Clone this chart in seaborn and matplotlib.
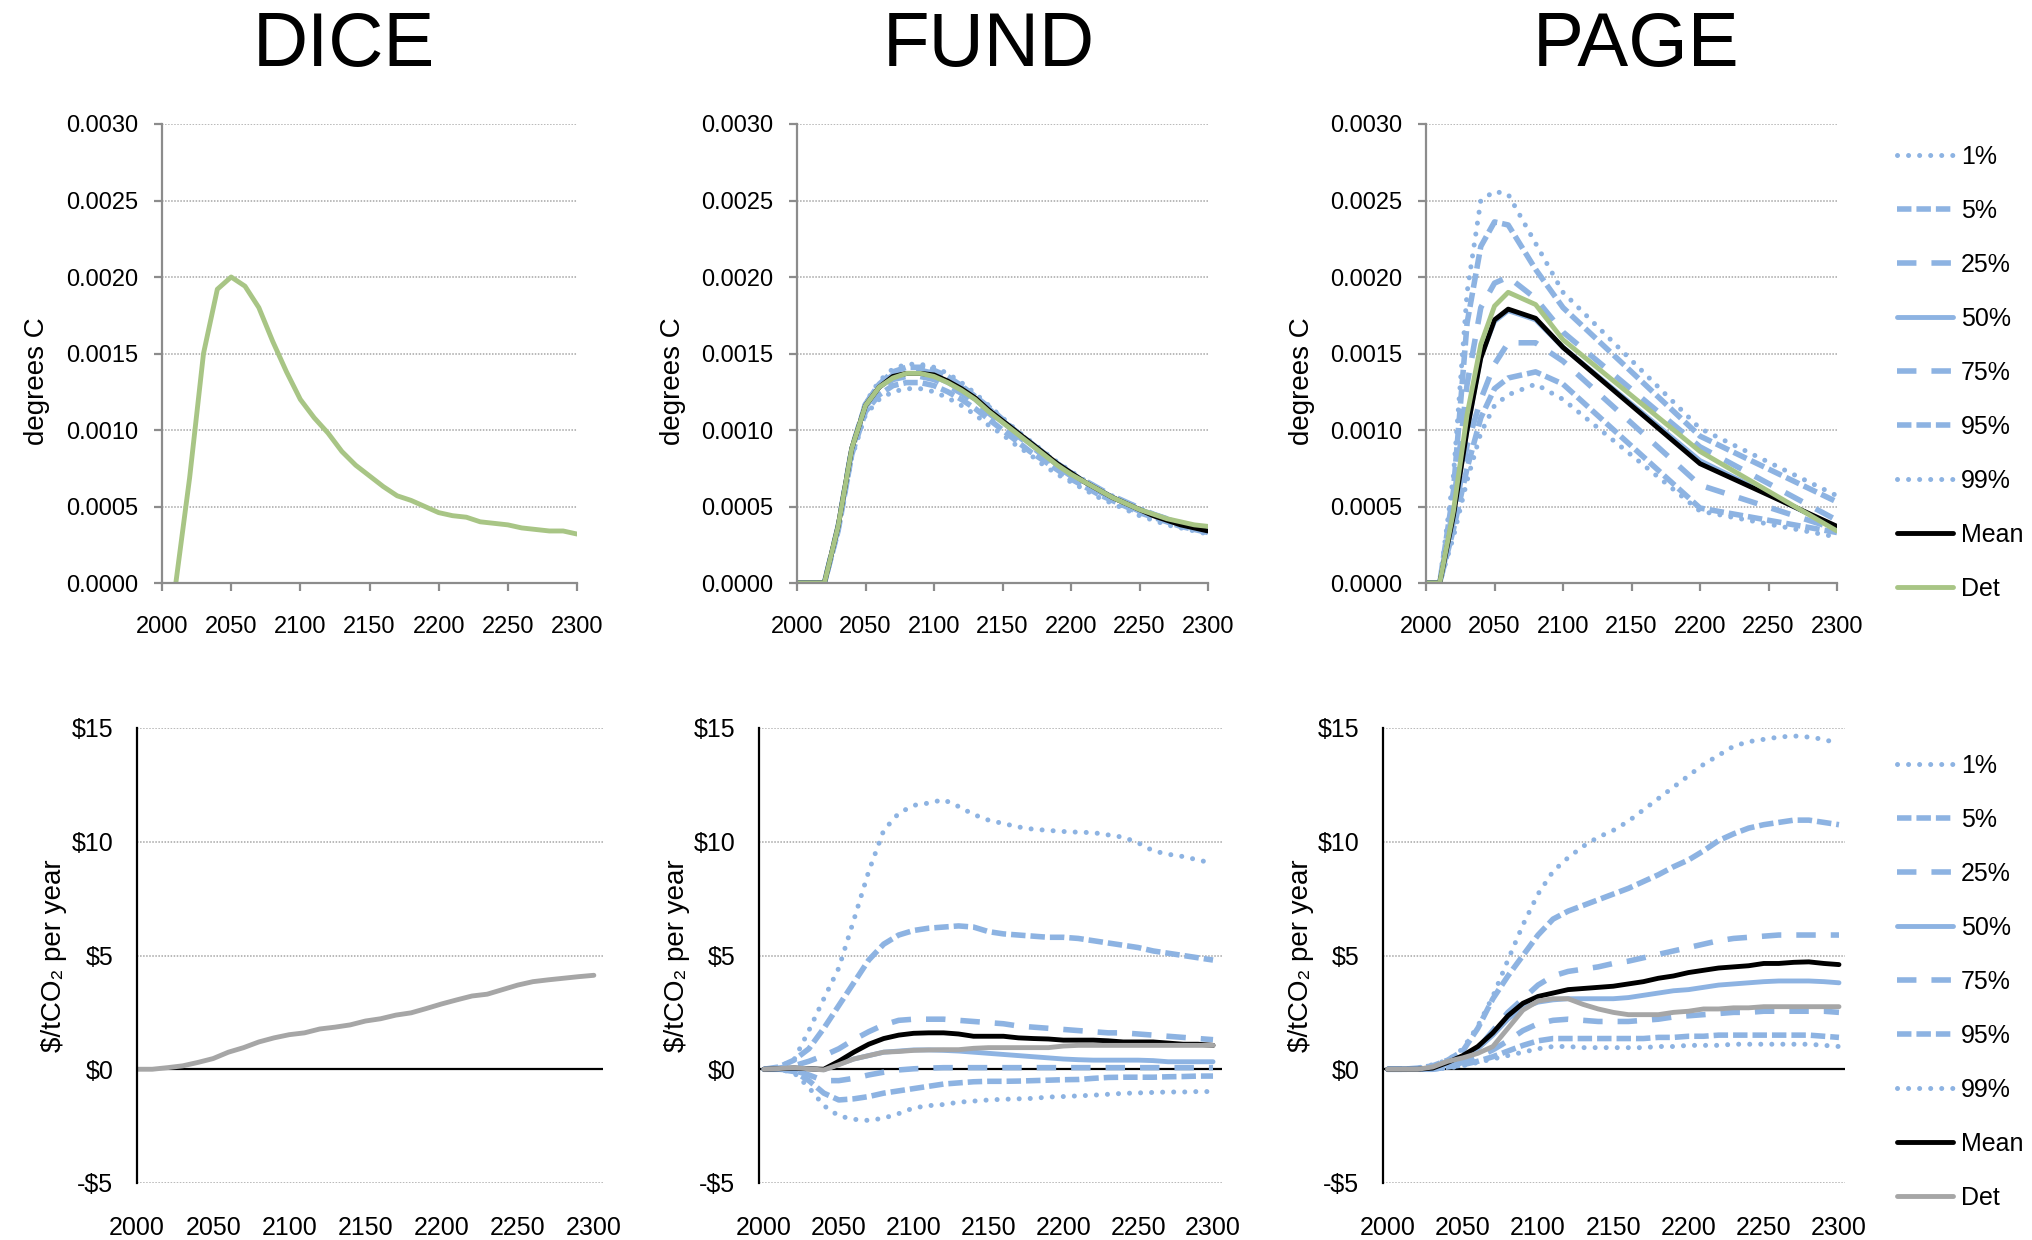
import numpy as np
import pandas as pd
import matplotlib.pyplot as plt
import seaborn as sns
from matplotlib.lines import Line2D
from matplotlib.ticker import FuncFormatter

### Data

labels = ['1%', '5%', '25%', '50%', '75%', '95%', '99%', 'Mean', 'Det']
models = ['DICE', 'FUND', 'PAGE']

years = list(range(2000, 2301, 10))
dice_temp_years = list(range(2010, 2301, 10))
page_temp_years = [2000, 2010, 2020, 2030, 2040, 2050, 2060, 2080, 2100, 2200, 2300]

# DICE (deterministic only)
dice_temp_det = [0, 0.00069, 0.0015, 0.00192, 0.0020, 0.00194, 0.0018, 0.00158, 0.00138, 0.0012,
                 0.00108, 0.00098, 0.00086, 0.00077, 0.0007, 0.00063, 0.00057, 0.00054, 0.0005, 0.00046,
                 0.00044, 0.00043, 0.0004, 0.00039, 0.00038, 0.00036, 0.00035, 0.00034, 0.00034, 0.00032]
dice_scc_det = [0, 0, 0.07, 0.15, 0.3, 0.47, 0.75, 0.95, 1.2, 1.38, 1.52, 1.6, 1.77, 1.85, 1.95, 2.12,
                2.22, 2.38, 2.48, 2.67, 2.87, 3.05, 3.22, 3.3, 3.5, 3.7, 3.85, 3.93, 4.0, 4.07, 4.13]

# FUND temperature
fund_temp = {
    '1%':   [0, 0, 0, 0.00033, 0.00082, 0.0011, 0.0012, 0.00125, 0.00127, 0.00127, 0.00125, 0.00121, 0.00116,
             0.0011, 0.00103, 0.00097, 0.0009, 0.00084, 0.00077, 0.00071, 0.00066, 0.00061, 0.00056, 0.00052,
             0.00048, 0.00044, 0.00041, 0.00038, 0.00036, 0.00034, 0.00032],
    '5%':   [0, 0, 0, 0.00034, 0.00084, 0.00112, 0.00123, 0.00129, 0.00131, 0.00131, 0.00129, 0.00125, 0.0012,
             0.00114, 0.00107, 0.001, 0.00093, 0.00086, 0.0008, 0.00074, 0.00068, 0.00063, 0.00058, 0.00054,
             0.0005, 0.00046, 0.00043, 0.0004, 0.00037, 0.00035, 0.00033],
    '25%':  [0, 0, 0, 0.00036, 0.00087, 0.00115, 0.00127, 0.00133, 0.00135, 0.00135, 0.00133, 0.00129, 0.00124,
             0.00118, 0.00111, 0.00104, 0.00097, 0.0009, 0.00083, 0.00076, 0.0007, 0.00065, 0.0006, 0.00055,
             0.00051, 0.00047, 0.00044, 0.00041, 0.00038, 0.00036, 0.00034],
    '50%':  [0, 0, 0, 0.00037, 0.00088, 0.00116, 0.00128, 0.00134, 0.00137, 0.00137, 0.00135, 0.00131, 0.00126,
             0.0012, 0.00112, 0.00105, 0.00098, 0.00091, 0.00084, 0.00077, 0.00071, 0.00066, 0.00061, 0.00056,
             0.00052, 0.00048, 0.00045, 0.00042, 0.00039, 0.00037, 0.00035],
    '75%':  [0, 0, 0, 0.00037, 0.00088, 0.00117, 0.00129, 0.00136, 0.00139, 0.00139, 0.00137, 0.00133, 0.00128,
             0.00121, 0.00114, 0.00106, 0.00099, 0.00092, 0.00085, 0.00078, 0.00072, 0.00067, 0.00062, 0.00057,
             0.00053, 0.00049, 0.00045, 0.00042, 0.00039, 0.00037, 0.00035],
    '95%':  [0, 0, 0, 0.00036, 0.00087, 0.00117, 0.0013, 0.00138, 0.00141, 0.00141, 0.00139, 0.00135, 0.00129,
             0.00122, 0.00115, 0.00107, 0.00099, 0.00092, 0.00085, 0.00078, 0.00072, 0.00066, 0.00061, 0.00056,
             0.00052, 0.00048, 0.00044, 0.00041, 0.00038, 0.00036, 0.00034],
    '99%':  [0, 0, 0, 0.00036, 0.00088, 0.00118, 0.00132, 0.0014, 0.00143, 0.00143, 0.00141, 0.00137, 0.00131,
             0.00124, 0.00116, 0.00108, 0.001, 0.00093, 0.00086, 0.00079, 0.00073, 0.00067, 0.00062, 0.00057,
             0.00053, 0.00049, 0.00045, 0.00042, 0.00039, 0.00037, 0.00035],
    'Mean': [0, 0, 0, 0.00037, 0.00088, 0.00116, 0.00128, 0.00135, 0.00137, 0.00137, 0.00136, 0.00132, 0.00127,
             0.00121, 0.00113, 0.00106, 0.00099, 0.00092, 0.00085, 0.00078, 0.00072, 0.00066, 0.00061, 0.00056,
             0.00052, 0.00048, 0.00044, 0.00041, 0.00038, 0.00036, 0.00034],
    'Det':  [0, 0, 0, 0.00037, 0.00088, 0.00116, 0.00128, 0.00134, 0.00137, 0.00137, 0.00135, 0.00131, 0.00126,
             0.0012, 0.00112, 0.00105, 0.00098, 0.00091, 0.00084, 0.00077, 0.00071, 0.00066, 0.00061, 0.00056,
             0.00052, 0.00048, 0.00045, 0.00042, 0.00040, 0.00038, 0.00037],
}

# FUND SCC growth
fund_scc = {
    '1%':   [0, 0, -0.15, -0.8, -1.6, -2.05, -2.2, -2.25, -2.15, -1.95, -1.7, -1.6, -1.55, -1.45, -1.4, -1.35,
             -1.32, -1.3, -1.28, -1.22, -1.2, -1.17, -1.14, -1.1, -1.06, -1.04, -1.02, -1.0, -1.0, -0.98, -0.98],
    '5%':   [0, 0, -0.1, -0.5, -1.05, -1.35, -1.3, -1.2, -1.05, -0.95, -0.85, -0.75, -0.65, -0.6, -0.55, -0.53,
             -0.53, -0.52, -0.5, -0.48, -0.46, -0.45, -0.4, -0.36, -0.35, -0.35, -0.35, -0.33, -0.32, -0.3, -0.3],
    '25%':  [0, 0, -0.05, -0.25, -0.5, -0.5, -0.4, -0.25, -0.13, -0.03, 0.02, 0.05, 0.07, 0.07, 0.07, 0.07,
             0.07, 0.07, 0.07, 0.07, 0.07, 0.07, 0.07, 0.07, 0.07, 0.07, 0.07, 0.07, 0.07, 0.07, 0.07],
    '50%':  [0, 0.03, 0.06, 0.02, -0.02, 0.22, 0.45, 0.6, 0.75, 0.8, 0.85, 0.85, 0.83, 0.8, 0.75, 0.7,
             0.65, 0.6, 0.55, 0.5, 0.45, 0.42, 0.4, 0.4, 0.4, 0.4, 0.38, 0.33, 0.33, 0.33, 0.33],
    '75%':  [0, 0.05, 0.15, 0.35, 0.6, 0.9, 1.3, 1.65, 1.95, 2.15, 2.2, 2.2, 2.2, 2.15, 2.1, 2.05,
             2.0, 1.9, 1.85, 1.8, 1.75, 1.7, 1.65, 1.6, 1.6, 1.55, 1.5, 1.45, 1.4, 1.35, 1.3],
    '95%':  [0, 0.1, 0.4, 0.9, 1.8, 2.8, 3.8, 4.8, 5.5, 5.9, 6.1, 6.2, 6.25, 6.3, 6.25, 6.05,
             5.95, 5.9, 5.85, 5.8, 5.8, 5.75, 5.65, 5.55, 5.45, 5.35, 5.2, 5.1, 5.0, 4.9, 4.8],
    '99%':  [0, 0.1, 0.4, 1.7, 3.1, 4.45, 6.55, 8.7, 10.5, 11.25, 11.6, 11.7, 11.85, 11.55, 11.2, 10.95,
             10.8, 10.65, 10.55, 10.5, 10.45, 10.42, 10.4, 10.3, 10.2, 9.95, 9.6, 9.45, 9.35, 9.2, 9.05],
    'Mean': [0, 0.02, 0.05, 0.02, 0.0, 0.35, 0.75, 1.1, 1.35, 1.5, 1.58, 1.6, 1.6, 1.55, 1.45, 1.45,
             1.45, 1.38, 1.35, 1.33, 1.28, 1.28, 1.28, 1.25, 1.2, 1.2, 1.2, 1.15, 1.1, 1.1, 1.05],
    'Det':  [0, 0.03, 0.07, 0.02, -0.03, 0.2, 0.45, 0.6, 0.75, 0.78, 0.83, 0.85, 0.86, 0.86, 0.92, 0.95,
             0.95, 0.95, 0.95, 0.95, 1.02, 1.05, 1.05, 1.05, 1.05, 1.05, 1.05, 1.05, 1.05, 1.05, 1.05],
}

# PAGE temperature
page_temp = {
    '1%':   [0, 0, 0.0003, 0.00067, 0.00098, 0.00116, 0.00123, 0.0013, 0.0012, 0.00047, 0.0003],
    '5%':   [0, 0, 0.00035, 0.00075, 0.00108, 0.00127, 0.00134, 0.00138, 0.0013, 0.00049, 0.00033],
    '25%':  [0, 0, 0.0004, 0.0009, 0.0012, 0.00143, 0.00157, 0.00157, 0.00145, 0.00064, 0.00035],
    '50%':  [0, 0, 0.00045, 0.001, 0.00148, 0.00171, 0.00178, 0.00172, 0.00154, 0.0008, 0.00036],
    '75%':  [0, 0, 0.0005, 0.0013, 0.0018, 0.00196, 0.0020, 0.00186, 0.00164, 0.00089, 0.00041],
    '95%':  [0, 0, 0.0006, 0.0017, 0.0022, 0.00236, 0.00234, 0.00205, 0.0018, 0.00096, 0.00053],
    '99%':  [0, 0, 0.0007, 0.0019, 0.0025, 0.00256, 0.00254, 0.00222, 0.0019, 0.00101, 0.00057],
    'Mean': [0, 0, 0.00044, 0.001, 0.00147, 0.00172, 0.00179, 0.00173, 0.00154, 0.00078, 0.00037],
    'Det':  [0, 0, 0.00047, 0.0011, 0.00156, 0.00181, 0.0019, 0.00182, 0.00159, 0.00086, 0.00034],
}

# PAGE SCC growth
page_scc = {
    '1%':   [0, 0, 0, 0, 0.05, 0.15, 0.3, 0.45, 0.6, 0.75, 0.9, 1.0, 1.0, 0.95, 0.95, 0.95,
             0.95, 0.95, 1.0, 1.0, 1.05, 1.05, 1.05, 1.1, 1.1, 1.1, 1.1, 1.1, 1.1, 1.05, 1.0],
    '5%':   [0, 0, 0, 0, 0.1, 0.2, 0.35, 0.55, 0.8, 1.05, 1.25, 1.35, 1.35, 1.35, 1.35, 1.35,
             1.35, 1.35, 1.4, 1.4, 1.45, 1.45, 1.5, 1.5, 1.5, 1.5, 1.5, 1.5, 1.5, 1.45, 1.4],
    '25%':  [0, 0, 0, 0, 0.1, 0.3, 0.55, 0.85, 1.25, 1.7, 2.0, 2.15, 2.2, 2.15, 2.1, 2.1,
             2.1, 2.15, 2.2, 2.3, 2.35, 2.4, 2.45, 2.5, 2.5, 2.55, 2.55, 2.55, 2.55, 2.55, 2.5],
    '50%':  [0, 0, 0, 0.03, 0.25, 0.5, 0.9, 1.5, 2.2, 2.7, 2.95, 3.05, 3.1, 3.1, 3.1, 3.1,
             3.15, 3.25, 3.35, 3.45, 3.5, 3.6, 3.7, 3.75, 3.8, 3.85, 3.88, 3.88, 3.88, 3.85, 3.8],
    '75%':  [0, 0, 0, 0.05, 0.2, 0.45, 0.9, 1.7, 2.5, 3.1, 3.7, 4.1, 4.3, 4.4, 4.5, 4.65,
             4.75, 4.9, 5.05, 5.2, 5.35, 5.5, 5.65, 5.75, 5.8, 5.85, 5.9, 5.9, 5.9, 5.9, 5.9],
    '95%':  [0, 0, 0.05, 0.15, 0.4, 0.8, 1.8, 3.1, 4.1, 5.0, 5.9, 6.6, 6.95, 7.2, 7.45, 7.7,
             7.95, 8.25, 8.55, 8.9, 9.2, 9.6, 10.05, 10.35, 10.6, 10.75, 10.85, 10.95, 10.95, 10.85, 10.75],
    '99%':  [0, 0, 0.05, 0.2, 0.4, 0.9, 1.9, 3.2, 4.8, 6.35, 7.7, 8.7, 9.3, 9.8, 10.2, 10.5,
             10.9, 11.4, 11.9, 12.4, 12.9, 13.4, 13.8, 14.2, 14.4, 14.5, 14.6, 14.65, 14.6, 14.5, 14.3],
    'Mean': [0, 0, 0, 0.05, 0.3, 0.6, 1.0, 1.6, 2.35, 2.9, 3.2, 3.35, 3.5, 3.55, 3.6, 3.65,
             3.75, 3.85, 4.0, 4.1, 4.25, 4.35, 4.45, 4.5, 4.55, 4.65, 4.65, 4.7, 4.72, 4.65, 4.6],
    'Det':  [0, 0, 0, 0.1, 0.35, 0.5, 0.7, 1.0, 1.8, 2.6, 3.0, 3.1, 3.1, 2.85, 2.65, 2.5,
             2.4, 2.4, 2.4, 2.5, 2.55, 2.65, 2.65, 2.7, 2.7, 2.75, 2.75, 2.75, 2.75, 2.75, 2.75],
}

### Styling

BLUE = '#8DB3E2'
GREEN = '#A8C585'
GREY = '#A6A6A6'
AXIS_GREY = '#8C8C8C'

SANS = ['Liberation Sans', 'DejaVu Sans']

dotted = dict(linestyle=(0, (0.01, 2.2)), linewidth=3.6, dash_capstyle='round')
short_dash = dict(linestyle=(0, (2.6, 0.9)), linewidth=4.0, dash_capstyle='butt')
long_dash = dict(linestyle=(0, (3.5, 2.7)), linewidth=4.0, dash_capstyle='butt')
solid = dict(linestyle='-', linewidth=3.5)

def line_style(label, det_color):
    if label in ('1%', '99%'):
        return dict(color=BLUE, **dotted)
    if label in ('5%', '95%'):
        return dict(color=BLUE, **short_dash)
    if label in ('25%', '75%'):
        return dict(color=BLUE, **long_dash)
    if label == '50%':
        return dict(color=BLUE, **solid)
    if label == 'Mean':
        return dict(color='black', **solid)
    return dict(color=det_color, **solid)


sns.set_style('white')
plt.rcParams['font.family'] = SANS
plt.rcParams['text.color'] = 'black'
plt.rcParams['axes.labelcolor'] = 'black'

W, H = 2032, 1240
fig = plt.figure(figsize=(W / 100, H / 100), dpi=100)

def frac(left, right, top, bottom):
    return [left / W, 1 - bottom / H, (right - left) / W, (bottom - top) / H]

top_axes = [fig.add_axes(frac(162, 577, 124, 583)),
            fig.add_axes(frac(797, 1208, 124, 583)),
            fig.add_axes(frac(1426, 1837, 124, 583))]
bot_axes = [fig.add_axes(frac(137, 603, 728, 1183)),
            fig.add_axes(frac(759, 1222, 728, 1183)),
            fig.add_axes(frac(1383, 1845, 728, 1183))]


def draw_series(ax, x, series, det_color):
    for lab in labels:
        if lab in series:
            sns.lineplot(x=x, y=series[lab], ax=ax, legend=False, **line_style(lab, det_color))


# Top row: temperature
sns.lineplot(x=dice_temp_years, y=dice_temp_det, ax=top_axes[0], legend=False, **line_style('Det', GREEN))
draw_series(top_axes[1], years, fund_temp, GREEN)
draw_series(top_axes[2], page_temp_years, page_temp, GREEN)

for ax in top_axes:
    ax.set_xlim(2000, 2300)
    ax.set_ylim(0, 0.003)
    ax.set_xticks(range(2000, 2301, 50))
    ax.set_yticks(np.arange(0, 0.00301, 0.0005))
    ax.yaxis.set_major_formatter(FuncFormatter(lambda v, p: f'{v:.4f}'))
    ax.grid(axis='y', linestyle=(0, (1, 1)), color='#A6A6A6', linewidth=1.1)
    ax.grid(axis='x', visible=False)
    for s in ['top', 'right']:
        ax.spines[s].set_visible(False)
    for s in ['left', 'bottom']:
        ax.spines[s].set_color(AXIS_GREY)
        ax.spines[s].set_linewidth(1.6)
    ax.tick_params(axis='both', direction='out', length=6, width=1.6, color=AXIS_GREY,
                   labelsize=17, labelcolor='black')
    ax.tick_params(axis='x', pad=18, bottom=True)
    ax.tick_params(axis='y', pad=11, left=True)
    ax.set_xlabel('')
    ax.set_ylabel('degrees C', fontsize=20)
    ax.yaxis.set_label_coords(-0.27, 0.44)

# Bottom row: SCC growth
sns.lineplot(x=years, y=dice_scc_det, ax=bot_axes[0], legend=False, **line_style('Det', GREY))
draw_series(bot_axes[1], years, fund_scc, GREY)
draw_series(bot_axes[2], years, page_scc, GREY)

bot_xlims = [(2000, 2306), (1996.7, 2306), (1997, 2304)]
for ax, xl in zip(bot_axes, bot_xlims):
    ax.set_xlim(*xl)
    ax.set_ylim(-5, 15)
    ax.set_xticks(range(2000, 2301, 50))
    ax.set_yticks([-5, 0, 5, 10, 15])
    ax.yaxis.set_major_formatter(FuncFormatter(lambda v, p: f'${v:.0f}' if v >= 0 else f'-${-v:.0f}'))
    ax.grid(axis='y', linestyle=(0, (1, 1)), color='#A6A6A6', linewidth=1.1)
    ax.grid(axis='x', visible=False)
    ax.axhline(0, color='black', linewidth=1.6, zorder=1.5)
    for s in ['top', 'right', 'bottom']:
        ax.spines[s].set_visible(False)
    ax.spines['left'].set_color('black')
    ax.spines['left'].set_linewidth(1.6)
    ax.tick_params(axis='both', length=0, labelsize=18, labelcolor='black')
    ax.tick_params(axis='x', pad=24)
    ax.tick_params(axis='y', pad=17)
    ax.set_xlabel('')
    ax.set_ylabel('$/tCO\u2082 per year', fontsize=20)
    ax.yaxis.set_label_coords(-0.15, 0.5)

# Titles
for x_px, name in zip([344, 989, 1636], models):
    fig.text(x_px / W, 1 - 66 / H, name, ha='center', va='baseline', fontsize=55, color='black')

# Legends
def legend_handles(det_color):
    return [Line2D([0], [0], **line_style(lab, det_color)) for lab in labels]

for det_color, first_row in [(GREEN, 160), (GREY, 769)]:
    fig.legend(legend_handles(det_color), labels, loc='upper left',
               bbox_to_anchor=(1897 / W, 1 - (first_row - 15) / H), bbox_transform=fig.transFigure,
               frameon=False, handlelength=2.25, handletextpad=0.3,
               labelspacing=1.2, borderpad=0, borderaxespad=0, prop={'size': 18})

fig.savefig('out.png', dpi=100)
